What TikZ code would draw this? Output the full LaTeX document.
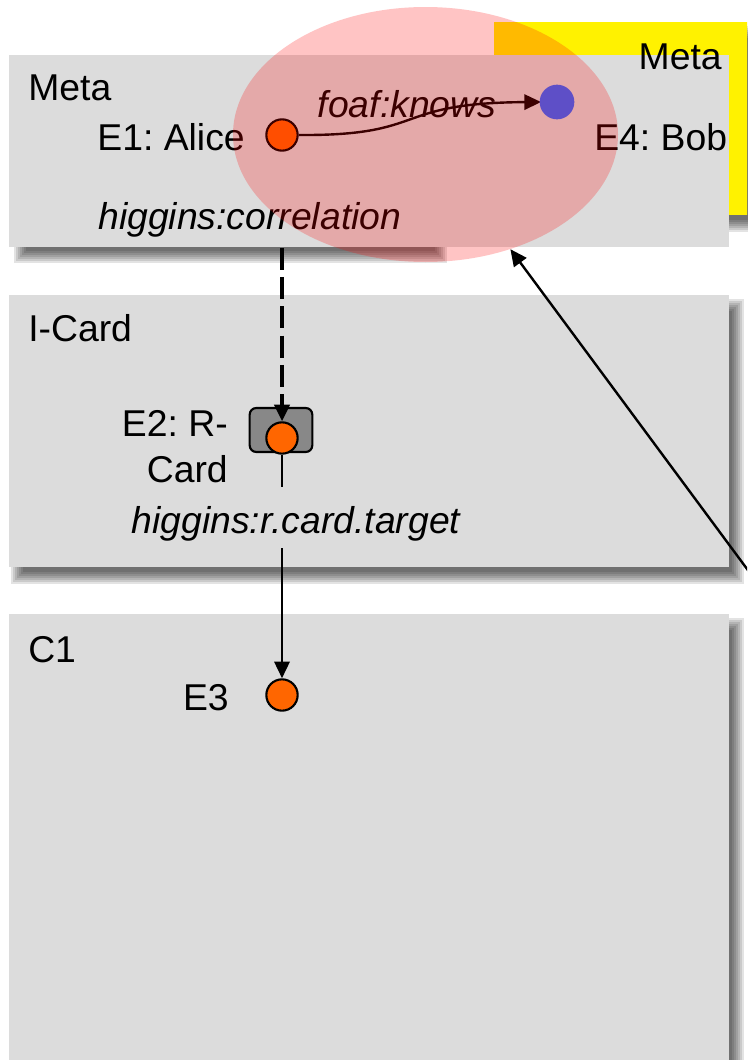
\documentclass[tikz,border=0pt]{standalone}
\usepackage{fontspec}
\setmainfont{Liberation Sans}
\usepackage{tikz}
\usetikzlibrary{shapes,arrows.meta,backgrounds}
\usetikzlibrary{positioning, shapes.geometric}
\frenchspacing
\definecolor{boxgray}{HTML}{DCDCDC}
\definecolor{cardgray}{HTML}{888888}
\definecolor{entorange}{HTML}{FF6600}
\definecolor{entblue}{HTML}{5E4FC7}
% soft shadow: a few stacked, slightly shifted rectangles
\newcommand{\boxshadow}[2]{%
  \foreach \e in {-6,-4,-2,0,2,4,6}
    \fill[black, opacity=.11] ([shift={({8-\e},{10-\e})}]#1) rectangle ([shift={({8+\e},{10+\e})}]#2);
}
\tikzset{
  ctxbox/.style={ fill=boxgray, anchor=north west, inner sep=0pt, minimum width=540pt }
}
\tikzset{
  metabox/.style={ fill=yellow, anchor=north west, inner sep=0pt }
}
\tikzset{
  entA/.style={ draw, circle, fill=entorange, line width=1.6pt, minimum size=23.5pt, inner sep=0pt }
}
\tikzset{
  entB/.style={ circle, fill=entblue, minimum size=26pt, inner sep=0pt }
}
\tikzset{
  rcard/.style={ draw, fill=cardgray, rounded corners=5pt, line width=1.6pt, minimum width=47pt, minimum height=33pt, inner sep=0pt }
}
\tikzset{
  corr/.style={ ellipse, fill=red, fill opacity=.23, minimum width=288.75pt, minimum height=191.25pt, inner sep=0pt }
}
\tikzset{
  lbl/.style={ inner sep=0pt }
}
\tikzset{
  link/.style={ line width=1.8pt, -{Triangle[length=12.5pt,width=11.5pt]} }
}
\tikzset{
  corrlink/.style={ link, line width=2.6pt, dash pattern=on 16.5pt off 5.5pt }
}

\begin{document}
\begin{tikzpicture}[x=0.75pt, y=-0.75pt, font=\fontsize{28pt}{34.5pt}\selectfont]
  \useasboundingbox (0,0) rectangle (747,1060);
  \clip (0,0) rectangle (747,1060);

  % contexts
  \node[metabox, minimum width=229.5pt, minimum height=144.75pt] (metaB) at (494,22) {};
  \node[ctxbox, minimum height=144pt] (meta) at (9,55) {};
  \node[ctxbox, minimum height=204pt] (icard) at (9,295) {};
  \node[ctxbox, minimum height=364.5pt] (cone) at (9,614) {};
  \begin{scope}[on background layer]
    \boxshadow{metaB.north west}{metaB.south east}
    \boxshadow{12,55}{433,247}
    \boxshadow{icard.north west}{icard.south east}
    \boxshadow{cone.north west}{cone.south east}
  \end{scope}

  \node[lbl, anchor=base east] (metaBlbl) at (722,69) {Meta};
  \node[lbl, anchor=base west] (metalbl) at (28,100) {Meta};
  \node[lbl, anchor=base west] (icardlbl) at (28,341) {I-Card};
  \node[lbl, anchor=base west] (conelbl) at (28,662) {C1};

  % Meta
  \node[entA] (e1) at (282,135) {};
  \node[lbl, anchor=base east] (e1lbl) at (245,150) {E1: Alice};
  \node[lbl, anchor=base west] (e4lbl) at (594,150) {E4: Bob};
  \coordinate (e4in) at (541,102);
  \draw[link] (e1.east) .. controls (430,136) and (390,103) .. (e4in);
  \node[lbl, anchor=base] (knows) at (407,117) {\itshape foaf:knows};
  \node[lbl, anchor=base west] (corrlbl) at (98,229) {\itshape higgins:correlation};
  \node[corr] (corr) at (425.5,134.5) {};
  \node[entB] (e4) at (557,102) {};

  % I-Card
  \node[rcard] (e2box) at (281,430) {};
  \node[entA] (e2) at (282,438) {};
  \node[lbl, anchor=east, align=right] (e2lbl) at (228,446.5) {E2: R-\\Card};
  \coordinate (ctop) at (meta.south -| e2);
  \draw[corrlink] (ctop) -- (e2);

  % C1
  \node[entA] (e3) at (282,695) {};
  \node[lbl, anchor=base east] (e3lbl) at (229,710) {E3};
  \draw[link] (e2) -- (e3);
  \node[fill=boxgray, inner xsep=4pt, inner ysep=0pt, text height=34.5pt, text depth=11pt, anchor=base] (targetlbl) at (296,533) {\itshape higgins:r.card.target};

  \coordinate (src) at (770,600);
  \draw[link] (src) -- (corr);
\end{tikzpicture}
\end{document}
